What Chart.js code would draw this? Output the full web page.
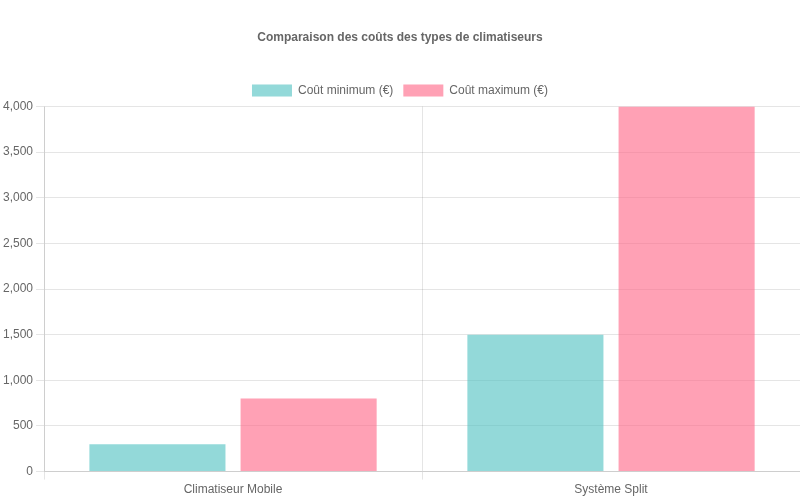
<!DOCTYPE html>
<html><head><meta charset="utf-8">
<script src="https://cdn.jsdelivr.net/npm/chart.js"></script>
<style>body{margin:0}#w{width:800px;height:500px}</style></head>
<body><div id="w"><canvas id="c"></canvas></div>
<script>
const categories = ["Climatiseur Mobile", "Système Split"];
const minCost = [300, 1500];
const maxCost = [800, 4000];
Chart.defaults.font.family = "'Liberation Sans', Arial, sans-serif";
new Chart(document.getElementById('c'), {
  type: 'bar',
  data: {
    labels: categories,
    datasets: [
      {label: 'Coût minimum (€)', data: minCost, backgroundColor: 'rgba(75,192,192,0.6)'},
      {label: 'Coût maximum (€)', data: maxCost, backgroundColor: 'rgba(255,99,132,0.6)'}
    ]
  },
  options: {
    responsive: true, maintainAspectRatio: false, animation: false,
    plugins: {
      title: {display: true, text: 'Comparaison des coûts des types de climatiseurs', color: '#666', font: {size: 12, weight: 'bold'}, padding: {top: 30, bottom: 30}}
    },
    scales: {
      y: {beginAtZero: true, max: 4000, ticks: {stepSize: 500}}
    }
  }
});
</script></body></html>
